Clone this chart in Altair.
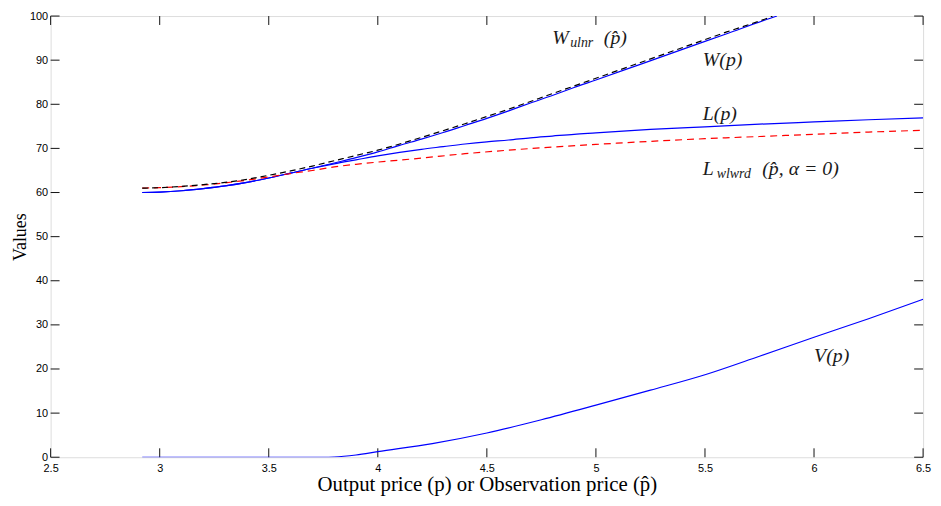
import altair as alt
import pandas as pd

# ---- data ----
W_x = [2.92, 3.0, 3.1, 3.2, 3.3, 3.4, 3.5, 3.6, 3.7, 3.8, 3.9, 4.0, 4.1, 4.2, 4.3, 4.4, 4.5,
       4.6, 4.7, 4.8, 4.9, 5.0, 5.2, 5.4, 5.6, 5.8, 5.83]
W_y = [60.0, 60.1, 60.4, 60.9, 61.5, 62.3, 63.3, 64.4, 65.5, 66.7, 67.9, 69.2, 70.7, 72.1, 73.6,
       75.2, 76.8, 78.5, 80.3, 82.0, 83.8, 85.5, 89.0, 92.5, 96.0, 99.5, 100.0]

Wu_x = [2.92, 3.0, 3.1, 3.2, 3.3, 3.4, 3.5, 3.6, 3.7, 3.8, 3.9, 4.0, 4.2, 4.4, 4.6, 4.8, 5.0,
        5.2, 5.4, 5.6, 5.8, 5.81]
Wu_y = [61.0, 61.1, 61.4, 61.8, 62.3, 63.0, 63.9, 64.9, 66.0, 67.2, 68.4, 69.6, 72.5, 75.6, 78.9,
        82.4, 85.9, 89.4, 92.9, 96.4, 99.8, 100.0]

L_x = [2.92, 3.0, 3.1, 3.2, 3.3, 3.4, 3.5, 3.6, 3.7, 3.8, 3.9, 4.0, 4.1, 4.2, 4.3, 4.4, 4.5,
       4.6, 4.7, 4.8, 4.9, 5.0, 5.25, 5.5, 5.75, 6.0, 6.25, 6.5]
L_y = [60.0, 60.1, 60.4, 60.9, 61.5, 62.3, 63.3, 64.4, 65.5, 66.5, 67.4, 68.3, 69.1, 69.8, 70.4,
       71.0, 71.5, 71.9, 72.4, 72.8, 73.2, 73.5, 74.3, 74.9, 75.5, 76.0, 76.5, 76.9]

Lw_x = [2.92, 3.0, 3.2, 3.4, 3.6, 3.7, 3.8, 3.9, 4.0, 4.2, 4.4, 4.6, 4.8, 5.0, 5.25, 5.5,
        5.75, 6.0, 6.25, 6.5]
Lw_y = [61.0, 61.1, 61.7, 62.8, 64.3, 65.0, 65.8, 66.4, 66.9, 67.8, 68.8, 69.6, 70.3, 70.9,
        71.6, 72.2, 72.7, 73.2, 73.7, 74.1]

V_x = [2.92, 3.5, 3.75, 3.8, 3.9, 4.0, 4.25, 4.5, 4.75, 5.0, 5.25, 5.5, 5.75, 6.0, 6.25, 6.5]
V_y = [0.0, 0.0, 0.0, 0.05, 0.5, 1.26, 3.1, 5.5, 8.5, 11.8, 15.2, 18.7, 22.9, 27.2, 31.4, 35.8]

x_ticks = [2.5, 3, 3.5, 4, 4.5, 5, 5.5, 6, 6.5]
y_ticks = [0, 10, 20, 30, 40, 50, 60, 70, 80, 90, 100]

x_title = "Output price (p) or Observation price (p\u0302)"
y_title = "Values"

# label pieces: (text, x, y, size, dx, dy)
label_pieces = [
    ("W", 4.80, 95.1, 20, 0, 0),
    ("ulnr", 4.80, 95.1, 14, 18, 5),
    ("(p\u0302)", 4.80, 95.1, 20, 52, 0),
    ("W(p)", 5.49, 90.1, 20, 0, 0),
    ("L(p)", 5.49, 77.8, 20, 0, 0),
    ("L", 5.49, 65.4, 20, 0, 0),
    ("wlwrd", 5.49, 65.4, 14, 14, 5),
    ("(p\u0302, \u03b1 = 0)", 5.49, 65.4, 20, 60, 0),
    ("V(p)", 6.0, 23.0, 20, 0, 0),
]

W_PLOT, H_PLOT = 880, 445
TICK = 9
lab_font = "Liberation Sans"
serif = "Liberation Serif"

xs = alt.Scale(domain=[2.5, 6.5], nice=False, zero=False)
ys = alt.Scale(domain=[0, 100], nice=False, zero=False)

x_axis = alt.Axis(orient="bottom", values=x_ticks, format="~g", ticks=False, domain=False,
                  grid=False, labelPadding=5, labelFont=lab_font, labelFontSize=11,
                  labelColor="black", labelFlush=False,
                  title=x_title, titleFont=serif, titleFontSize=21,
                  titleFontWeight="normal", titleColor="black", titlePadding=1)
y_axis = alt.Axis(orient="left", values=y_ticks, ticks=False, domain=False, grid=False,
                  labelPadding=3, labelFont=lab_font, labelFontSize=11, labelColor="black",
                  title=y_title, titleFont=serif, titleFontSize=18,
                  titleFontWeight="normal", titleColor="black", titlePadding=0)

X = alt.X("x:Q", scale=xs, axis=x_axis)
Y = alt.Y("y:Q", scale=ys, axis=y_axis)


def df(xv, yv):
    return pd.DataFrame({"x": xv, "y": yv})


def line(data, color, dash=None):
    kw = dict(color=color, strokeWidth=1.2, clip=True, interpolate="monotone")
    if dash is not None:
        kw["strokeDash"] = dash
    return alt.Chart(data).mark_line(**kw).encode(x=X, y=Y)


xt = pd.DataFrame({"x": x_ticks})
yt = pd.DataFrame({"y": y_ticks})
tick_style = dict(color="#111111", strokeWidth=1)

layers = [
    # inward tick marks on all four sides
    alt.Chart(xt).mark_rule(**tick_style).encode(x=X, y=alt.value(H_PLOT - TICK), y2=alt.value(H_PLOT)),
    alt.Chart(xt).mark_rule(**tick_style).encode(x=X, y=alt.value(0), y2=alt.value(TICK)),
    alt.Chart(yt).mark_rule(**tick_style).encode(y=Y, x=alt.value(0), x2=alt.value(TICK)),
    alt.Chart(yt).mark_rule(**tick_style).encode(y=Y, x=alt.value(W_PLOT - TICK), x2=alt.value(W_PLOT)),
    line(df(V_x, V_y), "#0000ff"),
    line(df(L_x, L_y), "#0000ff"),
    line(df(W_x, W_y), "#0000ff"),
    line(df(Lw_x, Lw_y), "#ff0000", dash=[7, 5]),
    line(df(Wu_x, Wu_y), "#000000", dash=[6, 4]),
]

for text, lx, ly, size, dx, dy in label_pieces:
    layers.append(
        alt.Chart(pd.DataFrame({"x": [lx], "y": [ly], "t": [text]})).mark_text(
            align="left", baseline="middle", font=serif, fontStyle="italic",
            fontSize=size, dx=dx, dy=dy, color="#1a1a1a"
        ).encode(x=X, y=Y, text="t:N")
    )

chart = alt.layer(*layers).properties(
    width=W_PLOT, height=H_PLOT,
    autosize=alt.AutoSizeParams(type="none"),
    padding={"left": 43, "top": 6, "right": 10, "bottom": 39},
).configure_view(stroke="black", strokeWidth=1.2).configure(background="white")

chart.save("out.html", embed_options={"renderer": "svg", "actions": False})
